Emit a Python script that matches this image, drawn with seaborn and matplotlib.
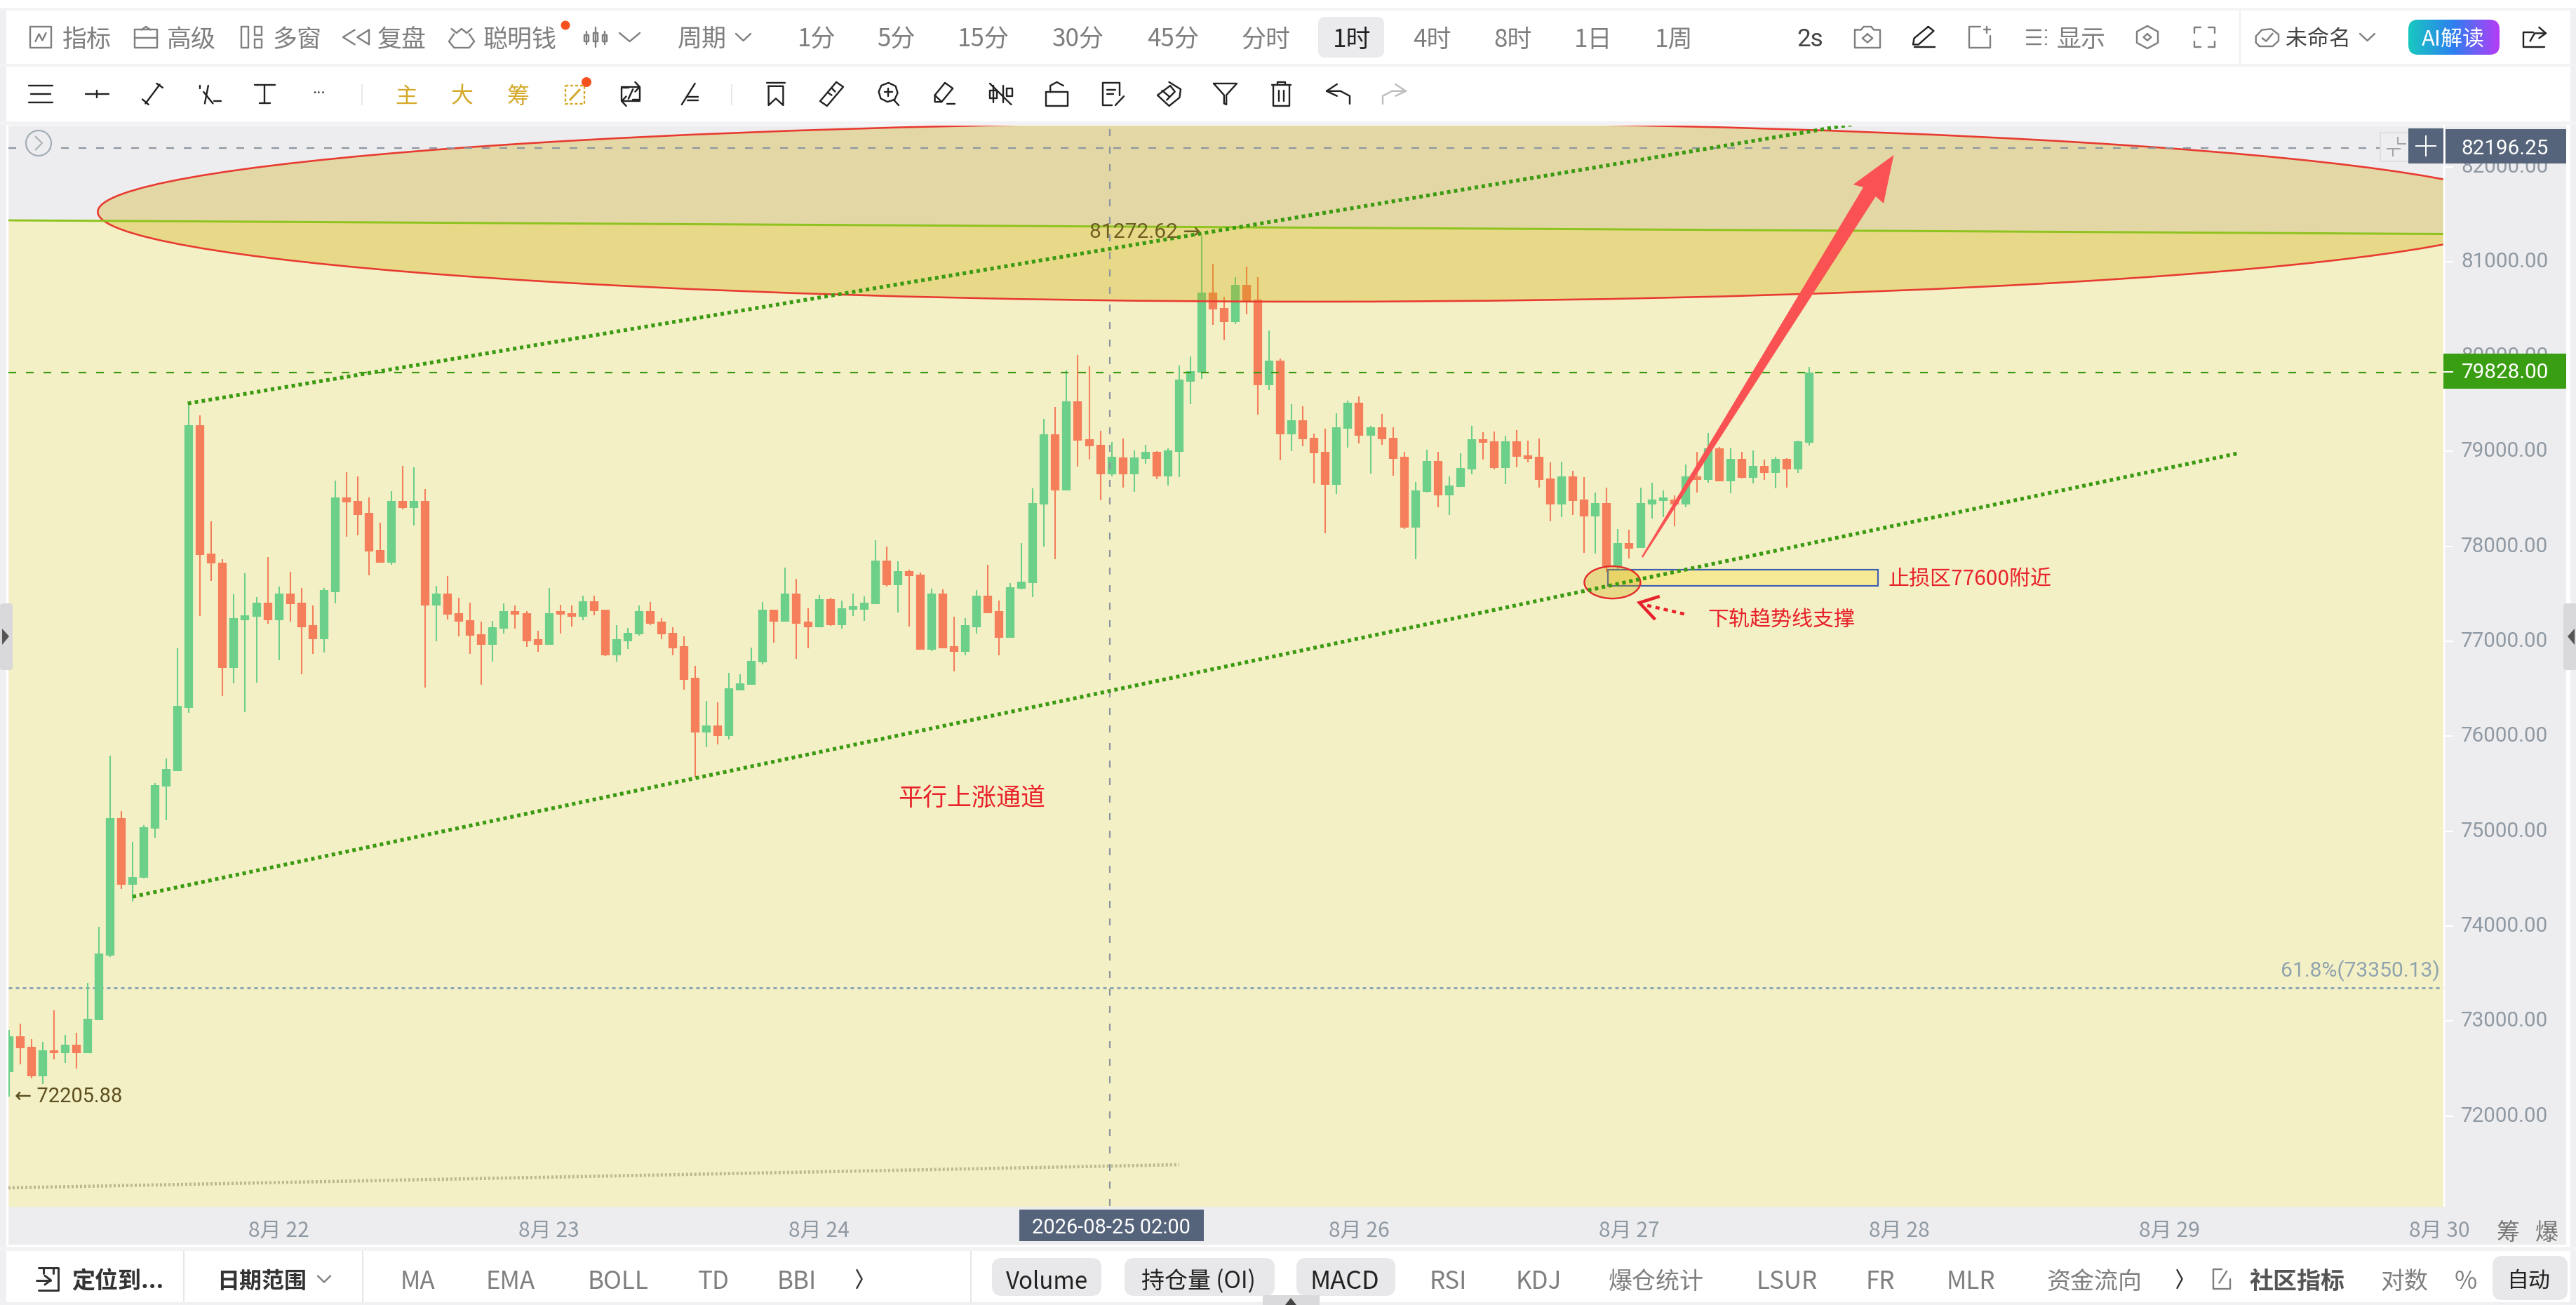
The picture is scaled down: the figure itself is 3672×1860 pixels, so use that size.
import numpy as np
import pandas as pd
import matplotlib
matplotlib.use("Agg")
import matplotlib.pyplot as plt
import seaborn as sns
from matplotlib.patches import Ellipse, Rectangle, FancyBboxPatch, Circle, Polygon
from matplotlib.colors import LinearSegmentedColormap
from matplotlib.transforms import ScaledTranslation

# ---------- data (hourly candles) ----------
OPENS = [72462,72843,72730,72419,72694,72660,72750,72660,73013,73692,
         75135,74433,74507,75027,75468,75635,76299,79275,77925,77832,
         76723,77224,77261,77408,77224,77501,77408,77167,77020,77521,
         78519,78480,78350,77962,77832,78480,78406,78480,77374,77501,
         77298,77221,77074,76964,77134,77315,77298,77020,76964,77315,
         77298,77261,77425,77334,76853,77003,77074,77315,77204,77091,
         76947,76613,76042,76112,76005,76483,76540,76780,77334,77204,
         77501,77204,77148,77445,77167,77334,77334,77391,77852,77592,
         77739,77702,76910,77501,76947,76890,77148,77481,77315,77037,
         77555,77612,78443,79181,78593,79532,79128,79071,78757,78937,
         78759,78923,78996,78739,78999,79737,79828,80676,80512,80365,
         80753,80603,79698,79958,79183,79330,79143,78996,78648,79239,
         79514,79163,79254,79143,78942,78201,78572,78903,78535,78626,
         78812,79126,79106,78829,79106,78959,78942,78719,78442,78739,
         78496,78315,78460,77794,78036,77984,78442,78479,78497,78442,
         78736,78701,79031,78686,78923,78721,78849,78775,78923,78812,79090]
CLOSES = [72843,72716,72419,72694,72660,72750,72660,73027,73712,75135,
          74433,74521,75044,75488,75652,76319,79275,77911,77818,76723,
          77241,77275,77408,77224,77501,77391,77148,77020,77538,78519,
          78463,78333,77948,77832,78480,78406,78480,77374,77501,77278,
          77204,77057,76964,77148,77315,77278,77003,76964,77298,77278,
          77261,77425,77315,76853,77020,77091,77315,77184,77074,76930,
          76596,76042,76112,76005,76503,76554,76797,77334,77204,77501,
          77184,77148,77445,77167,77351,77371,77408,77852,77592,77739,
          77685,76910,77501,76930,76890,77167,77481,77298,77037,77572,
          77629,78460,79181,78593,79532,79111,79054,78757,78941,78759,
          78937,78996,78739,79013,79754,79848,80676,80495,80365,80753,
          80586,79698,79958,79183,79330,79126,78979,78648,79254,79514,
          79163,79254,79126,78923,78201,78589,78903,78535,78645,78829,
          79126,79090,78829,79106,78942,78923,78699,78442,78739,78481,
          78315,78456,77794,78036,77979,78460,78497,78514,78442,78736,
          78701,79031,78686,78923,78721,78849,78775,78923,78812,79108,79828]
HIGHS = [72909,72971,72812,72778,73112,72852,72880,73401,73995,75799,
         75211,74888,75064,75508,75765,76930,79515,79382,78265,77869,
         77493,77719,77464,77889,77578,77736,77566,77374,77566,78695,
         78783,78737,78519,78251,78582,78845,78836,78602,77586,77685,
         77459,77408,77204,77216,77402,77374,77317,77111,77563,77388,
         77374,77481,77481,77334,77170,77139,77374,77411,77244,77148,
         77049,76743,76370,76356,76667,76653,76935,77411,77334,77778,
         77657,77351,77487,77459,77431,77501,77473,78067,77996,77841,
         77756,77727,77558,77544,77261,77241,77538,77804,77431,77614,
         78033,78613,79345,79470,79857,80019,79900,79218,79099,79135,
         79013,79070,79002,79036,79904,80003,81273,80979,80628,80840,
         80945,80838,80272,79978,79502,79480,79191,79239,79404,79539,
         79582,79271,79398,79254,78993,78682,79016,78993,78739,78979,
         79271,79203,79214,79163,79225,79115,79135,78889,78894,78795,
         78727,78569,78620,78184,78176,78620,78669,78588,78538,78861,
         78997,79194,79046,79034,78997,79009,78915,78945,78933,79113,79893]
LOWS = [72206,72541,72399,72334,72597,72561,72501,72660,73013,73678,
        74394,74258,74504,74928,75115,75635,76248,77266,77637,76426,
        76554,76257,76568,77184,76800,77204,76655,76870,76879,77402,
        78101,78118,77699,77832,77807,78387,78222,76511,76998,77233,
        77049,76865,76545,76786,77085,77131,76944,76893,76964,77080,
        77153,77221,77272,76842,76786,76916,77057,77170,77020,76851,
        76489,75567,75883,75917,75968,76483,76540,76760,76986,77204,
        76817,76927,77148,77162,77131,77266,77213,77391,77578,77303,
        77156,76910,76899,76930,76681,76856,77085,77298,76851,77037,
        77549,77464,77996,77869,78593,78839,78918,78486,78737,78617,
        78578,78872,78710,78640,78733,79497,79763,80337,80173,80345,
        80442,79389,79644,78908,79007,79058,78660,78136,78552,79039,
        79087,78767,79070,78747,78184,77868,78569,78413,78329,78626,
        78761,78914,78809,78654,78832,78886,78617,78263,78309,78334,
        77933,77927,77733,77652,77876,77984,78295,78312,78213,78410,
        78570,78674,78686,78563,78718,78662,78701,78615,78620,78773,79063]

Y_TICKS = [72000,73000,74000,75000,76000,77000,78000,79000,80000,81000,82000]
X_TICK_POS = [24,48,72,120,144,168,192,216]
X_TICK_LABELS = ['8月 22','8月 23','8月 24','8月 26','8月 27','8月 28','8月 29','8月 30']

LAST_PRICE = 79828.00
CROSS_PRICE = 82196.25
FIB_PRICE = 73350.13
CROSS_INDEX = 97.85

UPPER_I, UPPER_P = [15.9, 165.5], [79506, 82480]
LOWER_I, LOWER_P = [11.0, 198.1], [74310, 78981]
FAINT_I, FAINT_P = [-0.04, 104.0], [71243, 71487]
EDGE_I, EDGE_P = [-0.04, 216.35], [81435, 81291]

ARROW_I = [145.1, 164.8, 163.9, 167.5, 166.6, 165.9, 145.2]
ARROW_P = [77895, 81783, 81812, 82123, 81613, 81687, 77880]
SMALL_TAIL_I, SMALL_TAIL_P = [145.6, 149.1], [77378, 77282]
SMALL_HEAD_I, SMALL_HEAD_P = [146.7, 144.9, 146.3], [77474, 77407, 77230]

# ---------- geometry / style ----------
W, H = 3673, 1860
AX_L, AX_R, AX_T, AX_B = 12, 3483, 179, 1719
GREEN, RED = '#6CCF8A', '#F47F5A'
YELLOW = '#F4F0C6'
PANEL = '#EDEDEF'
AXIS_TXT = '#8F99A3'
DARKBOX = '#55647A'
CJK = ['Noto Sans CJK SC', 'DejaVu Sans']
NUM = ['Roboto', 'DejaVu Sans']

sns.set_theme(style='white')
plt.rcParams['font.family'] = CJK
plt.rcParams['lines.scale_dashes'] = False
plt.rcParams['lines.solid_capstyle'] = 'butt'
plt.rcParams['lines.dash_capstyle'] = 'butt'
PX = 0.72  # points per pixel at dpi 100

fig = plt.figure(figsize=(W / 100, H / 100), dpi=100, facecolor='white')


def pixel_axes(z):
    a = fig.add_axes([0, 0, 1, 1], zorder=z)
    a.set_xlim(0, W)
    a.set_ylim(H, 0)
    a.axis('off')
    a.patch.set_visible(False)
    return a


under = pixel_axes(0)
ax = fig.add_axes([AX_L / W, 1 - AX_B / H, (AX_R - AX_L) / W, (AX_B - AX_T) / H], zorder=1)
over = pixel_axes(2)

# ---------- page background ----------
for (x0, y0, x1, y1, c) in [
    (0, 12, 9, H, '#F0F0F2'), (3664, 12, W, H, '#F0F0F2'),
    (0, 11, W, 15, '#F3F3F5'), (0, 91, W, 95, '#F3F3F5'), (0, 173, W, 178, '#F3F3F5'),
    (0, 1777, W, 1783, '#F3F3F5'), (0, 1856, W, H, '#F0F0F2'),
    (AX_R, AX_T, 3658, 1774, PANEL), (AX_L, 1720, 3658, 1774, PANEL),
]:
    under.add_patch(Rectangle((x0, y0), x1 - x0, y1 - y0, fc=c, ec='none'))

# ---------- main chart ----------
ax.set_facecolor(PANEL)
idx = np.arange(len(OPENS))
ax.fill_between(EDGE_I, EDGE_P, 71000, color=YELLOW, lw=0, zorder=0)

direction = ['up' if c >= o else 'down' for o, c in zip(OPENS, CLOSES)]
wicks = pd.DataFrame({'i': np.r_[idx, idx], 'price': np.r_[HIGHS, LOWS], 'dir': direction * 2})
bodies = pd.DataFrame({'i': np.r_[idx, idx], 'price': np.r_[OPENS, CLOSES], 'dir': direction * 2})
pal = {'up': GREEN, 'down': RED}
sns.lineplot(data=wicks, x='i', y='price', hue='dir', units='i', estimator=None, palette=pal,
             linewidth=2.1 * PX, legend=False, ax=ax, zorder=2, solid_capstyle='butt')
sns.lineplot(data=bodies, x='i', y='price', hue='dir', units='i', estimator=None, palette=pal,
             linewidth=12.3 * PX, legend=False, ax=ax, zorder=2.1, solid_capstyle='butt')

ELL_FC = (0.80, 0.655, 0.0, 0.31)
ax.add_patch(Rectangle((142.1, 77585), 24.0, 170, fc='#F6EA96', ec='#4060B0', lw=2.2 * PX, zorder=2.5))
ax.add_patch(Ellipse((115.8, 81524), 2 * 107.9, 2 * 946, fc=ELL_FC, ec='#E83A30', lw=2.6 * PX, zorder=3))
ax.add_patch(Ellipse((142.5, 77621), 2 * 2.49, 2 * 170, fc=ELL_FC, ec='#E42A2A', lw=2.4 * PX, zorder=3))

sns.lineplot(x=EDGE_I, y=EDGE_P, color='#8FC31F', linewidth=3 * PX, ax=ax, zorder=3.2)
for (xs, ys) in [(UPPER_I, UPPER_P), (LOWER_I, LOWER_P)]:
    sns.lineplot(x=xs, y=ys, color='#3B9A12', linewidth=5.4 * PX, linestyle=(0, (5 * PX, 5 * PX)), ax=ax, zorder=4)
sns.lineplot(x=FAINT_I, y=FAINT_P, color='#BDB98E', linewidth=4.6 * PX, linestyle=(0, (3 * PX, 3 * PX)), ax=ax, zorder=1)

DASH = (0, (11 * PX, 14 * PX))
sns.lineplot(x=EDGE_I, y=[CROSS_PRICE, CROSS_PRICE], color='#8E96A0', linewidth=2.2 * PX, linestyle=DASH, ax=ax, zorder=3.5)
sns.lineplot(x=EDGE_I, y=[LAST_PRICE, LAST_PRICE], color='#3B9A12', linewidth=2.2 * PX, linestyle=DASH, ax=ax, zorder=3.5)
sns.lineplot(x=EDGE_I, y=[FIB_PRICE, FIB_PRICE], color='#8FA6B5', linewidth=3 * PX,
             linestyle=(0, (5 * PX, 5 * PX)), ax=ax, zorder=1.5)
ax.axvline(CROSS_INDEX, color='#8E96A0', lw=2.2 * PX, ls=(0, (10 * PX, 15 * PX)), zorder=3.5)

ax.add_patch(Polygon(np.c_[ARROW_I, ARROW_P], closed=True, fc='#FA5252', ec='none', zorder=5))
sns.lineplot(x=SMALL_TAIL_I, y=SMALL_TAIL_P, color='#E8222A', linewidth=4.5 * PX,
             linestyle=(0, (6 * PX, 6 * PX)), ax=ax, zorder=5)
ax.plot(SMALL_HEAD_I, SMALL_HEAD_P, color='#E8222A', lw=4.5 * PX, zorder=5, solid_joinstyle='miter')

ax.text(167.0, 77658, '止损区77600附近', color='#E8222A', fontsize=30 * PX, va='center', ha='left', zorder=6)
ax.text(151.0, 77230, '下轨趋势线支撑', color='#E8222A', fontsize=30 * PX, va='center', ha='left', zorder=6)
ax.text(79.0, 75338, '平行上涨通道', color='#E8222A', fontsize=35 * PX, va='center', ha='left', zorder=6)
ax.text(216.0, 73526, '61.8%(73350.13)', color='#8FA3AE', fontsize=30 * PX, va='center', ha='right',
        family=NUM, zorder=6)
ax.text(96.0, 81310, '81272.62 →', color='#6E5F20', fontsize=30 * PX, va='center', ha='left', family=NUM, zorder=6)
ax.text(0.5, 72205, '← 72205.88', color='#5C4E1E', fontsize=29 * PX, va='center', ha='left', family=NUM, zorder=6)

ax.set_xlim(-0.04, 216.35)
ax.set_ylim(71051, 82433)
ax.set_xlabel('')
ax.set_ylabel('')
ax.grid(False)
for s in ax.spines.values():
    s.set_visible(False)
ax.yaxis.tick_right()
ax.set_yticks(Y_TICKS)
ax.set_yticklabels([f'{v:.2f}' for v in Y_TICKS], family=NUM, fontsize=29.6 * PX, color=AXIS_TXT)
ax.tick_params(axis='y', which='major', right=True, length=14 * PX, width=2 * PX, color='white', pad=11 * PX)
ax.set_xticks(X_TICK_POS)
ax.set_xticklabels(X_TICK_LABELS, fontsize=30 * PX, color=AXIS_TXT, family=CJK)
ax.tick_params(axis='x', which='major', bottom=False, pad=12 * PX)
lift = ScaledTranslation(0, 3 / 100, fig.dpi_scale_trans)
for lab in ax.get_yticklabels():
    lab.set_transform(lab.get_transform() + lift)

# ---------- UI helpers ----------
def T(x, y, s, px=34, color='#808080', weight='normal', fam=CJK, ha='center', a=over, z=5):
    a.text(x, y, s, fontsize=px * PX, color=color, fontweight=weight, family=fam, ha=ha, va='center_baseline', zorder=z)


def box(x0, y0, x1, y1, fc, r=0, z=1, ec='none', lw=0, a=over):
    if r:
        p = FancyBboxPatch((x0 + r, y0 + r), x1 - x0 - 2 * r, y1 - y0 - 2 * r,
                           boxstyle=f'round,pad={r},rounding_size={r}', fc=fc, ec=ec, lw=lw, zorder=z)
    else:
        p = Rectangle((x0, y0), x1 - x0, y1 - y0, fc=fc, ec=ec, lw=lw, zorder=z)
    a.add_patch(p)
    return p


ICONS = {
    'chart': [[(0, 0), (1, 0), (1, 1), (0, 1), (0, 0)], [(.25, .7), (.42, .35), (.58, .65), (.75, .3)]],
    'high': [[(0, .15), (1, .15), (1, 1), (0, 1), (0, .15)], [(.3, .15), (.5, 0), (.7, .15)], [(0, .55), (1, .55)]],
    'panes': [[(0, 0), (.35, 0), (.35, 1), (0, 1), (0, 0)], [(.65, 0), (1, 0), (1, .4), (.65, .4), (.65, 0)],
              [(.65, .6), (1, .6), (1, 1), (.65, 1), (.65, .6)]],
    'rewind': [[(.45, .1), (0, .5), (.45, .9)], [(1, .1), (.55, .5), (1, .9), (1, .1)]],
    'smart': [[(.1, .1), (.3, .3), (.5, .1), (.7, .3), (.9, .1)], [(.2, .35), (0, .7), (.2, 1), (.8, 1), (1, .7), (.8, .35)]],
    'kline': [[(.1, .2), (.1, .85)], [(.5, 0), (.5, 1)], [(.9, .2), (.9, .85)], [(0, .4), (.2, .4), (.2, .7), (0, .7), (0, .4)],
              [(.4, .3), (.6, .3), (.6, .7), (.4, .7), (.4, .3)], [(.8, .4), (1, .4), (1, .7), (.8, .7), (.8, .4)]],
    'chev': [[(0, .25), (.5, .75), (1, .25)]],
    'chevr': [[(.2, 0), (.8, .5), (.2, 1)]],
    'menu': [[(0, .08), (1, .08)], [(.1, .5), (.9, .5)], [(0, .92), (1, .92)]],
    'seg': [[(0, .5), (1, .5)], [(.5, .3), (.5, .7)]],
    'diag': [[(.15, .95), (.85, .05)], [(.0, .75), (.3, 1.0)], [(.7, 0), (1, .2)]],
    'fib': [[(.1, .1), (.1, .25)], [(.25, .4), (.65, .95)], [(.3, .95), (.45, .1)], [(.7, .85), (1, .85)]],
    'T': [[(0, .05), (1, .05)], [(.5, .05), (.5, .98)], [(.25, .98), (.75, .98)]],
    'swap': [[(.1, .2), (.9, .2), (.9, .75), (.6, .75)], [(.9, .8), (.1, .8), (.1, .25), (.4, .25)], [(.7, 0), (.9, .2), (.7, .4)], [(.3, .6), (.1, .8), (.3, 1)], [(.4, .7), (.6, .3)]],
    'cross': [[(.2, 1), (.85, 0)], [(.5, .65), (1, .65)], [(.5, .8), (1, .8)]],
    'mark': [[(.0, 0), (1, 0)], [(.1, .15), (.9, .15), (.9, 1), (.5, .7), (.1, 1), (.1, .15)]],
    'ruler': [[(.7, 0), (1, .2), (.3, 1), (0, .8), (.7, 0)], [(.5, .25), (.65, .4)], [(.35, .45), (.5, .55)]],
    'zoom': [[(.5, 0), (.85, .15), (.95, .45), (.8, .75), (.45, .85), (.12, .7), (.02, .4), (.15, .12), (.5, 0)], [(.75, .75), (1, 1)], [(.3, .42), (.7, .42)], [(.5, .25), (.5, .6)]],
    'erase': [[(.5, 0), (.85, .25), (.35, .85), (.05, .85), (.05, .55), (.5, 0)], [(.05, .55), (.35, .85)], [(.6, .95), (.95, .95)]],
    'nobars': [[(.15, .1), (.15, .9)], [(.6, .1), (.6, .9)], [(.0, .35), (.3, .35), (.3, .7), (0, .7), (0, .35)], [(.75, .25), (1, .25), (1, .6), (.75, .6), (.75, .25)], [(0, 0), (.95, 1)]],
    'lock': [[(0, .42), (1, .42), (1, 1), (0, 1), (0, .42)], [(.2, .42), (.2, .15), (.5, 0), (.8, .15)]],
    'note': [[(.8, .55), (.8, 0), (0, 0), (0, 1), (.45, 1)], [(.2, .3), (.6, .3)], [(.2, .5), (.5, .5)], [(.6, 1), (1, .6)]],
    'magnet': [[(.5, 0), (1, .3), (.95, .65), (.5, 1), (0, .55), (.55, .15), (.75, .4), (.4, .75)], [(.2, .35), (.5, .6)]],
    'funnel': [[(0, 0), (1, 0), (.55, .55), (.55, 1), (.45, .95), (.45, .55), (0, 0)]],
    'trash': [[(0, .12), (1, .12)], [(.3, .12), (.3, 0), (.7, 0), (.7, .12)], [(.08, .12), (.08, 1), (.92, 1), (.92, .12)], [(.38, .35), (.38, .8)], [(.62, .35), (.62, .8)]],
    'undo': [[(.45, 0), (0, .35), (.45, .6)], [(0, .35), (.6, .35), (1, .6), (1, 1)]],
    'redo': [[(.55, 0), (1, .35), (.55, .6)], [(1, .35), (.4, .35), (0, .6), (0, 1)]],
    'cam': [[(0, .15), (.25, .15), (.35, 0), (.65, 0), (.75, .15), (1, .15), (1, 1), (0, 1), (0, .15)], [(.5, .35), (.7, .55), (.5, .75), (.3, .55), (.5, .35)]],
    'pen': [[(.7, 0), (.95, .2), (.25, .85), (.0, .85), (.05, .55), (.7, 0)], [(.05, .98), (1, .98)]],
    'noteplus': [[(.55, 0), (0, 0), (0, 1), (1, 1), (1, .45)], [(.85, 0), (.85, .3)], [(.7, .15), (1, .15)]],
    'rows': [[(0, .1), (.7, .1)], [(0, .5), (.7, .5)], [(0, .9), (.7, .9)], [(.95, .1), (1, .1)], [(.95, .5), (1, .5)], [(.95, .9), (1, .9)]],
    'hex': [[(.5, 0), (1, .25), (1, .75), (.5, 1), (0, .75), (0, .25), (.5, 0)], [(.5, .35), (.68, .5), (.5, .65), (.32, .5), (.5, .35)]],
    'full': [[(0, .3), (0, 0), (.3, 0)], [(.7, 0), (1, 0), (1, .3)], [(1, .7), (1, 1), (.7, 1)], [(.3, 1), (0, 1), (0, .7)]],
    'cloud': [[(.2, 1), (.05, .8), (.05, .45), (.3, .1), (.7, .05), (1, .35), (1, .7), (.75, 1), (.2, 1)], [(.32, .55), (.48, .72), (.75, .3)]],
    'share': [[(.45, .25), (0, .25), (0, 1), (.95, 1)], [(.3, .7), (.5, .3), (1, .3)], [(.7, 0), (1, .3), (.7, .55)]],
    'locate': [[(.1, 0), (.9, 0), (.9, 1), (.1, 1)], [(0, .55), (.6, .55)], [(.35, .35), (.6, .55), (.35, .75)], [(.3, 0), (.3, .25)], [(.7, 0), (.7, .25)]],
    'pencilbox': [[(.5, 0), (0, 0), (0, 1), (1, 1), (1, .5)], [(.35, .7), (.8, .1)]],
}


def icon(name, x0, x1, yc, h=None, color='#222222', lw=2.4):
    h = h if h is not None else (x1 - x0)
    for seg in ICONS[name]:
        pts = np.array(seg)
        over.plot(x0 + pts[:, 0] * (x1 - x0), yc + (pts[:, 1] - .5) * h, color=color, lw=lw * PX, zorder=5,
                  solid_joinstyle='round', solid_capstyle='round')


# ---------- top toolbar ----------
GR = '#7F7F7F'
ROW1 = 53
for s, x in [('指标', 124), ('高级', 273), ('多窗', 423), ('复盘', 573), ('聪明钱', 741), ('周期', 1001),
             ('1分', 1164), ('5分', 1277), ('15分', 1402), ('30分', 1537), ('45分', 1672), ('分时', 1804),
             ('4时', 2042), ('8时', 2157), ('1日', 2271), ('1周', 2386), ('显示', 2967)]:
    T(x, ROW1, s, 35, GR)
box(1879, 24, 1973, 82, '#EBEBED', r=10)
T(1927, ROW1, '1时', 35, '#222222')
T(2580, ROW1, '2s', 35, '#444444', fam=NUM)
T(3305, ROW1, '未命名', 31, '#444444')
for name, x0, x1, h in [('chart', 43, 73, 30), ('high', 192, 224, 30), ('panes', 344, 373, 30), ('rewind', 489, 526, 26),
                        ('smart', 640, 676, 30), ('kline', 833, 865, 28), ('chev', 883, 912, 24), ('chev', 1049, 1070, 20),
                        ('cam', 2644, 2680, 30), ('noteplus', 2807, 2837, 30), ('rows', 2889, 2917, 24),
                        ('hex', 3046, 3076, 32), ('full', 3128, 3157, 28), ('cloud', 3214, 3248, 26), ('chev', 3364, 3385, 20)]:
    icon(name, x0, x1, ROW1, h, color=GR)
icon('pen', 2727, 2758, ROW1, 30, color='#222222')
icon('share', 3597, 3629, ROW1, 28, color='#222222')
over.add_patch(Circle((806, 36), 6.5, fc='#F4511E', ec='none', zorder=6))
over.plot([3193, 3193], [15, 91], color='#EFEFF1', lw=2 * PX, zorder=2)

cmap = LinearSegmentedColormap.from_list('ai', ['#18C8C0', '#2E7FF0', '#B53CF6'])
grad = np.linspace(0, 1, 200).reshape(1, -1)
ai_clip = box(3433, 28, 3563, 78, 'none', r=14, z=1)
im = over.imshow(grad, extent=(3433, 3563, 78, 28), aspect='auto', cmap=cmap, zorder=3, vmin=0, vmax=1)
im.set_clip_path(ai_clip)
over.set_xlim(0, W)
over.set_ylim(H, 0)
T(3497, ROW1, 'AI解读', 31, 'white')

# ---------- drawing toolbar ----------
ROW2 = 134
K = '#222222'
for name, x0, x1, h in [('menu', 41, 75, 28), ('seg', 122, 155, 26), ('diag', 203, 232, 30), ('fib', 282, 315, 30),
                        ('T', 363, 392, 28), ('swap', 883, 915, 34), ('cross', 966, 995, 30), ('mark', 1093, 1119, 32),
                        ('ruler', 1169, 1202, 34), ('zoom', 1252, 1281, 32), ('erase', 1331, 1363, 32),
                        ('nobars', 1411, 1443, 30), ('lock', 1491, 1522, 34), ('note', 1572, 1602, 32),
                        ('magnet', 1650, 1683, 34), ('funnel', 1730, 1763, 30), ('trash', 1813, 1840, 34),
                        ('undo', 1891, 1924, 28)]:
    icon(name, x0, x1, ROW2, h, color=K)
icon('redo', 1971, 2004, ROW2, 28, color='#BDBDBD')
T(455, ROW2 - 3, '···', 24, '#333333', fam=NUM)
for s, x in [('主', 579), ('大', 659), ('筹', 739)]:
    T(x, ROW2, s, 32, '#D4A92A')
over.add_patch(Rectangle((806, 122), 27, 26, fc='none', ec='#D4A92A', lw=2.4 * PX, ls=(0, (3, 2)), zorder=5))
over.plot([812, 827], [143, 127], color='#D4A92A', lw=3 * PX, zorder=5)
over.add_patch(Circle((836, 117), 7, fc='#F4511E', ec='none', zorder=6))
for x in (516, 1043):
    over.plot([x, x], [120, 150], color='#E8E8EA', lw=2 * PX, zorder=2)

# ---------- bottom toolbar ----------
ROW3 = 1823
DK = '#333333'
icon('locate', 52, 86, ROW3, 32, color=DK, lw=3)
T(168, ROW3, '定位到...', 33, DK, weight='bold')
T(373, ROW3, '日期范围', 32, DK, weight='bold')
icon('chev', 453, 471, ROW3, 18, color=GR)
for x in (262, 517, 1384):
    over.plot([x, x], [1783, 1856], color='#E6E6E8', lw=2 * PX, zorder=2)
for s, x in [('MA', 595), ('EMA', 728), ('BOLL', 881), ('TD', 1017), ('BBI', 1136), ('RSI', 2064), ('KDJ', 2193),
             ('LSUR', 2547), ('FR', 2680), ('MLR', 2809), ('%', 3515)]:
    T(x, ROW3, s, 35, GR)
for s, x in [('爆仓统计', 2361), ('资金流向', 2985), ('对数', 3427)]:
    T(x, ROW3, s, 34, GR)
icon('chevr', 1219, 1231, ROW3, 26, color=DK)
icon('chevr', 3101, 3113, ROW3, 26, color=DK)
icon('pencilbox', 3155, 3179, ROW3, 28, color=GR)
T(3274, ROW3, '社区指标', 34, '#555555', weight='bold')
for x0, x1, y0, y1 in [(1414, 1570, 1793, 1847), (1603, 1817, 1793, 1847), (1848, 1989, 1793, 1847), (3553, 3660, 1790, 1853)]:
    box(x0, y0, x1, y1, '#E8E8EA', r=14)
T(1493, ROW3, 'Volume', 33, '#222222')
T(1708, ROW3, '持仓量 (OI)', 33, '#222222')
T(1917, ROW3, 'MACD', 36, '#222222')
T(3605, ROW3, '自动', 31, '#222222')
box(1800, 1846, 1881, H, '#DADADC', z=3)
over.add_patch(Polygon([(1832, H), (1840, 1850), (1848, H)], closed=True, fc='#444444', ec='none', zorder=4))

# ---------- axis strip pieces ----------
box(1453, 1724, 1716, 1769, DARKBOX, z=3)
T(1584, 1747, '2026-08-25 02:00', 29, 'white', fam=NUM)
T(3575, 1753, '筹', 33, '#777777')
T(3630, 1753, '爆', 33, '#777777')

# price boxes on the right
over.plot([AX_R + 1.5, AX_R + 1.5], [AX_T, 1720], color='white', lw=2.5 * PX, zorder=1)
box(3486, 184, 3658, 233, DARKBOX, z=3)
T(3571, 209, f'{CROSS_PRICE:.2f}', 29.6, 'white', fam=NUM)
box(3483, 504, 3658, 554, '#3A9E12', z=3)
T(3571, 528, f'{LAST_PRICE:.2f}', 29.6, 'white', fam=NUM)
over.plot([3483, 3497], [530, 530], color='white', lw=2 * PX, zorder=4)

# crosshair + / small square
box(3393, 189, 3434, 230, '#EEEEF0', ec='#DDDEE2', lw=2 * PX, z=2)
over.plot([3418, 3418, 3430], [195, 205, 205], color='#A0A4AA', lw=2 * PX, zorder=3)
over.plot([3402, 3422], [212, 212], color='#A0A4AA', lw=2 * PX, zorder=3)
over.plot([3411, 3411], [212, 223], color='#A0A4AA', lw=2 * PX, zorder=3)
box(3433, 183, 3483, 233, DARKBOX, z=3)
over.plot([3443, 3473], [208, 208], color='white', lw=2 * PX, zorder=4)
over.plot([3458, 3458], [193, 223], color='white', lw=2 * PX, zorder=4)

# collapse circle top-left
over.add_patch(Circle((55, 204), 18, fc=PANEL, ec='#A4AEB6', lw=2.2 * PX, zorder=3))
over.plot([50, 60, 50], [194, 204, 214], color='#A4AEB6', lw=2 * PX, zorder=4)

# side tabs
box(0, 860, 18, 955, '#D9D9DB', r=4, z=3)
over.add_patch(Polygon([(3, 896), (13, 907), (3, 919)], closed=True, fc='#555555', ec='none', zorder=4))
box(3654, 860, W, 955, '#D9D9DB', r=4, z=3)
over.add_patch(Polygon([(3670, 896), (3660, 907), (3670, 919)], closed=True, fc='#555555', ec='none', zorder=4))

fig.savefig('out.png', dpi=100, facecolor='white')
